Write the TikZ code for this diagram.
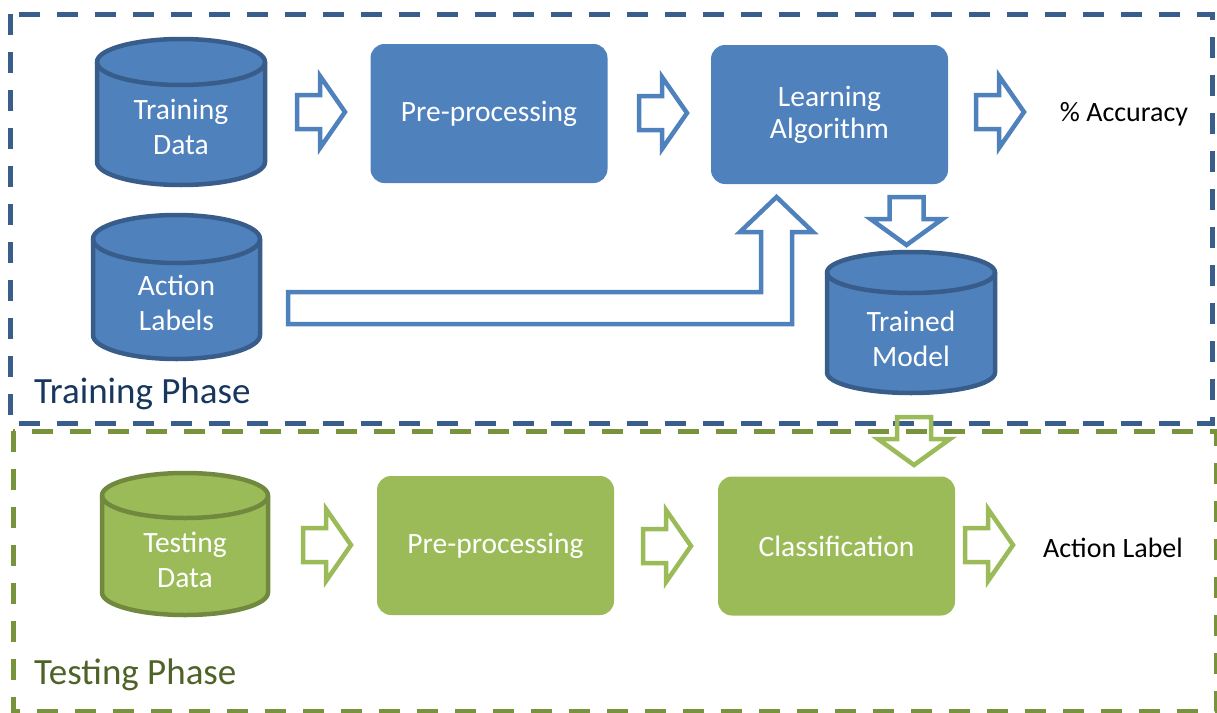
\documentclass[tikz,border=0pt]{standalone}
\usepackage{fontspec}
\setmainfont{Carlito}

\definecolor{bluefill}{HTML}{4F81BD}
\definecolor{blueline}{HTML}{385D8A}
\definecolor{bluedash}{HTML}{3A5E8C}
\definecolor{bluetitle}{HTML}{17375E}
\definecolor{greenfill}{HTML}{9BBB59}
\definecolor{greenline}{HTML}{71893F}
\definecolor{greendash}{HTML}{77933C}
\definecolor{greentitle}{HTML}{4F6228}

% database cylinder: centre x, top y, bottom y, x radius, y radius, fill, outline
\newcommand\dbcylinder[7]{%
  \filldraw[line width=4.5pt, fill=#6, draw=#7]
    (#1-#4,#2+#5) -- (#1-#4,#3-#5)
    arc[start angle=180, end angle=360, x radius=#4pt, y radius=#5pt]
    -- (#1+#4,#2+#5)
    arc[start angle=0, end angle=180, x radius=#4pt, y radius=#5pt] -- cycle;
  \draw[line width=4.5pt, draw=#7] (#1-#4,#2+#5)
    arc[start angle=180, end angle=360, x radius=#4pt, y radius=#5pt];
}

\begin{document}
\begin{tikzpicture}[x=1pt, y=-1pt,
  txt/.style={font=\fontsize{28}{34}\selectfont, align=center, inner sep=0pt},
  celltext/.style={txt, text=white, font=\fontsize{29.5}{35}\selectfont},
  procbox/.style={txt, text=white, font=\fontsize{29.5}{35}\selectfont,
    rounded corners=14pt, minimum width=237pt, minimum height=139pt},
  bluebox/.style={procbox, fill=bluefill},
  greenbox/.style={procbox, fill=greenfill},
  phasebox/.style={line width=5pt, dash pattern=on 21pt off 17pt},
  phasetitle/.style={txt, font=\fontsize{37}{42}\selectfont, anchor=base west},
  barrow/.style={line width=4.5pt, draw=bluefill, line join=miter},
  garrow/.style={line width=4.5pt, draw=greenfill, line join=miter},
  rarr/.pic={\draw[pic actions] (-24,-17) -- (-1,-17) -- (-1,-36) -- (24,0)
     -- (-1,36) -- (-1,17) -- (-24,17) -- cycle;},
  darr/.pic={\draw[pic actions] (-17,-24) -- (17,-24) -- (17,-2) -- (36,-2)
     -- (0,24) -- (-36,-2) -- (-17,-2) -- cycle;},
]
\useasboundingbox (0,0) rectangle (1217,712);

% phase frames
\draw[phasebox, draw=greendash] (13,431) rectangle (1216,711);
\draw[phasebox, draw=bluedash] (10,14) rectangle (1212,423);

% data stores
\dbcylinder{181}{39}{185}{84}{23}{bluefill}{blueline}
\node[celltext] (td) at (181,127) {Training\\Data};
\dbcylinder{176.5}{215}{359}{83.5}{24}{bluefill}{blueline}
\node[celltext] (al) at (176.5,303) {Action\\Labels};
\dbcylinder{911}{252}{393}{84}{20.5}{bluefill}{blueline}
\node[celltext] (tm) at (911,339) {Trained\\Model};
\dbcylinder{185}{473}{615}{83}{22.5}{greenfill}{greenline}
\node[celltext] (tsd) at (185,560) {Testing\\Data};

% processing steps
\node[bluebox] (pp1) at (489,113.5) {Pre-processing};
\node[bluebox, font=\fontsize{29.5}{32}\selectfont] (la) at (829.5,114.5) {Learning\\Algorithm};
\node[greenbox] (pp2) at (495.5,545.5) {Pre-processing};
\node[greenbox] (cl) at (836.5,546) {Classification};

% outputs
\node[txt] (acc) at (1124,114) {\% Accuracy};
\node[txt] (lbl) at (1113,548) {Action Label};

% phase titles
\node[phasetitle, text=bluetitle] (trp) at (34,403) {Training Phase};
\node[phasetitle, text=greentitle] (tsp) at (34,684) {Testing Phase};

% training flow arrows
\pic[barrow] at (321,112) {rarr};
\pic[barrow] at (663,113) {rarr};
\pic[barrow] at (1000,112) {rarr};
\pic[barrow] at (906.5,221) {darr};
\coordinate (bentstart) at (288,292);
\coordinate (benttip) at (776.5,197);
\draw[barrow] (bentstart) -- (761,292) -- (761,232) -- (740,232)
  -- (benttip) -- (813,232) -- (792,232) -- (792,324)
  -- (288,324) -- cycle;

% testing flow arrows
\pic[garrow] at (914,441) {darr};
\pic[garrow] at (327,545) {rarr};
\pic[garrow] at (667,546) {rarr};
\pic[garrow] at (989,545) {rarr};
\end{tikzpicture}
\end{document}
